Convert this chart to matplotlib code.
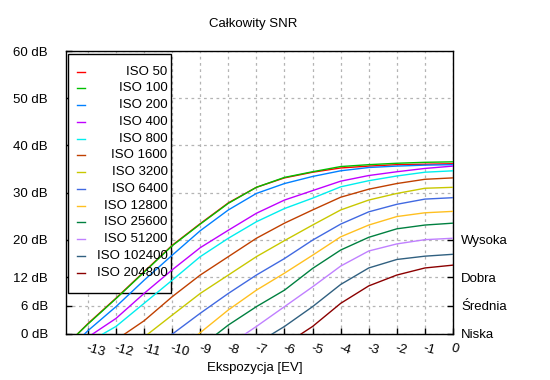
import matplotlib
matplotlib.use("Agg")
import matplotlib.pyplot as plt
import numpy as np

plt.rcParams['font.family'] = ['Liberation Sans', 'DejaVu Sans']
plt.rcParams['axes.unicode_minus'] = False

# ---- data ----
iso_labels = ["ISO 50", "ISO 100", "ISO 200", "ISO 400", "ISO 800", "ISO 1600",
              "ISO 3200", "ISO 6400", "ISO 12800", "ISO 25600", "ISO 51200",
              "ISO 102400", "ISO 204800"]
colors = ["#ff0000", "#00c000", "#0080ff", "#c000ff", "#00eeee", "#c04000",
          "#c8c800", "#4169e1", "#ffc020", "#008040", "#c080ff", "#306080", "#8b0000"]

ev_50 = [-13.37, -13, -12, -11, -10, -9, -8, -7, -6, -5, -4, -3, -2, -1, 0]
snr_50 = [0.0, 2.2, 7.6, 13.2, 18.8, 23.4, 27.8, 31.1, 33.1, 34.3, 35.2, 35.6, 35.9, 36.0, 36.1]
ev_100 = [-13.37, -13, -12, -11, -10, -9, -8, -7, -6, -5, -4, -3, -2, -1, 0]
snr_100 = [0.0, 2.1, 7.5, 13.1, 18.7, 23.3, 27.7, 31.1, 33.2, 34.4, 35.5, 35.9, 36.2, 36.4, 36.5]
ev_200 = [-13.12, -13, -12, -11, -10, -9, -8, -7, -6, -5, -4, -3, -2, -1, 0]
snr_200 = [0.0, 0.7, 5.8, 11.4, 16.7, 21.9, 26.3, 29.8, 31.9, 33.4, 34.6, 35.3, 35.6, 35.8, 35.9]
ev_400 = [-12.83, -12, -11, -10, -9, -8, -7, -6, -5, -4, -3, -2, -1, 0]
snr_400 = [0.0, 3.3, 8.6, 13.6, 18.3, 22.0, 25.6, 28.4, 30.4, 32.4, 33.6, 34.4, 35.1, 35.6]
ev_800 = [-12.47, -12, -11, -10, -9, -8, -7, -6, -5, -4, -3, -2, -1, 0]
snr_800 = [0.0, 1.6, 6.5, 11.4, 16.4, 20.3, 23.8, 26.6, 28.8, 31.2, 32.5, 33.5, 34.3, 34.6]
ev_1600 = [-11.69, -11, -10, -9, -8, -7, -6, -5, -4, -3, -2, -1, 0]
snr_1600 = [0.0, 2.8, 7.9, 12.5, 16.4, 20.3, 23.5, 26.3, 29.0, 30.7, 31.9, 32.8, 33.1]
ev_3200 = [-10.86, -10, -9, -8, -7, -6, -5, -4, -3, -2, -1, 0]
snr_3200 = [0.0, 4.0, 8.6, 12.5, 16.4, 19.8, 23.1, 26.3, 28.4, 29.8, 30.9, 31.1]
ev_6400 = [-9.99, -9, -8, -7, -6, -5, -4, -3, -2, -1, 0]
snr_6400 = [0.0, 4.4, 8.6, 12.5, 16.0, 19.9, 23.3, 25.9, 27.5, 28.6, 28.9]
ev_12800 = [-9.06, -8, -7, -6, -5, -4, -3, -2, -1, 0]
snr_12800 = [0.0, 5.1, 9.3, 12.9, 16.7, 20.6, 23.1, 24.9, 25.7, 26.0]
ev_25600 = [-8.41, -8, -7, -6, -5, -4, -3, -2, -1, 0]
snr_25600 = [0.0, 1.9, 5.8, 9.3, 13.9, 17.8, 20.5, 22.3, 23.1, 23.5]
ev_51200 = [-7.40, -7, -6, -5, -4, -3, -2, -1, 0]
snr_51200 = [0.0, 1.6, 5.8, 10.0, 14.4, 17.6, 19.1, 20.0, 20.3]
ev_102400 = [-6.44, -6, -5, -4, -3, -2, -1, 0]
snr_102400 = [0.0, 1.6, 5.8, 10.5, 14.0, 15.8, 16.5, 16.9]
ev_204800 = [-5.41, -5, -4, -3, -2, -1, 0]
snr_204800 = [0.0, 1.6, 6.5, 10.2, 12.5, 14.0, 14.6]

series_ev = [ev_50, ev_100, ev_200, ev_400, ev_800, ev_1600, ev_3200, ev_6400,
             ev_12800, ev_25600, ev_51200, ev_102400, ev_204800]
series_snr = [snr_50, snr_100, snr_200, snr_400, snr_800, snr_1600, snr_3200, snr_6400,
              snr_12800, snr_25600, snr_51200, snr_102400, snr_204800]

x_ticks = list(range(-13, 1))
y_ticks = [0, 6, 12, 20, 30, 40, 50, 60]
y_tick_labels = ["0 dB", "6 dB", "12 dB", "20 dB", "30 dB", "40 dB", "50 dB", "60 dB"]
quality_ticks = [0, 6, 12, 20]
quality_labels = ["Niska", "Średnia", "Dobra", "Wysoka"]

# ---- figure ----
W, H = 550, 380
fig = plt.figure(figsize=(W / 100, H / 100), dpi=100)
L, R, T, B = 66, 453, 51, 334
ax = fig.add_axes([L / W, (H - B) / H, (R - L) / W, (B - T) / H])

for ev, snr, c in zip(series_ev, series_snr, colors):
    ax.plot(ev, snr, color=c, lw=1.0, zorder=3, solid_joinstyle='miter')

ax.set_xlim(-13.78, 0)
ax.set_ylim(0, 60)
ax.set_xticks(x_ticks)
ax.set_xticklabels([str(t) for t in x_ticks], rotation=-15, ha='left', va='top',
                   rotation_mode='anchor', fontsize=9.5)
ax.set_yticks(y_ticks)
ax.set_yticklabels(y_tick_labels, fontsize=9.5)
ax.tick_params(axis='both', direction='in', length=4.5, width=1, color='black')
ax.tick_params(axis='y', pad=13)
ax.tick_params(axis='x', pad=6)
ax.grid(True, color='#b4b4b4', linestyle=(0, (2.2, 2.8)), linewidth=0.9, zorder=0)
ax.set_axisbelow(True)
for s in ax.spines.values():
    s.set_linewidth(1.0)
    s.set_color('black')

ax2 = ax.twinx()
ax2.set_ylim(0, 60)
ax2.set_yticks(quality_ticks)
ax2.set_yticklabels(quality_labels, fontsize=9.5)
ax2.tick_params(axis='y', direction='in', length=4.5, width=1, pad=6)
for s in ax2.spines.values():
    s.set_visible(False)

# legend (gnuplot style: sample left, right-aligned text, boxed)
ax_w, ax_h = R - L, B - T
def fx(px):
    return (px - L) / ax_w
def fy(py):
    return (B - py) / ax_h

box = plt.Rectangle((fx(68), fy(293)), fx(171) - fx(68), fy(54) - fy(293),
                    transform=ax.transAxes, facecolor='white', edgecolor='black',
                    lw=1.0, zorder=1, clip_on=False)
ax.add_patch(box)
for i, (lab, c) in enumerate(zip(iso_labels, colors)):
    yy = fy(71.7 + 16.75 * i)
    ax.plot([fx(77), fx(85)], [yy, yy], color=c, lw=1.0, transform=ax.transAxes,
            zorder=2, clip_on=False)
    ax.text(fx(167.5), yy, lab, transform=ax.transAxes, ha='right', va='center',
            fontsize=9.5, zorder=4)

fig.text(253 / W, 1 - 24 / H, "Całkowity SNR", ha='center', va='center', fontsize=9.5)
fig.text(255 / W, 1 - 368 / H, "Ekspozycja [EV]", ha='center', va='center', fontsize=9.5)

fig.savefig("out.png", dpi=100)
